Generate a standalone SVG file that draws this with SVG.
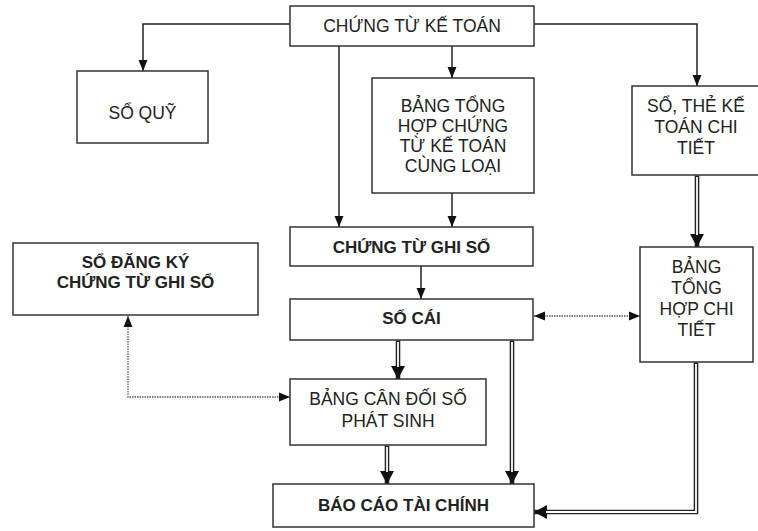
<svg xmlns="http://www.w3.org/2000/svg" width="758" height="531" viewBox="0 0 758 531">
<defs>
<style>
.box{fill:#fff;stroke:#333;stroke-width:1.5}
.t{font-family:"Liberation Sans",Arial,sans-serif;font-size:17.5px;fill:#222;text-anchor:middle}
.b{font-weight:bold;font-size:17px}
.thin{fill:none;stroke:#222;stroke-width:1.5}
.dot{fill:none;stroke:#555;stroke-width:1.3;stroke-dasharray:1.5 1}
.dbl{fill:none;stroke:#222;stroke-width:4.6;stroke-linejoin:miter}
.dbli{fill:none;stroke:#fff;stroke-width:1.8;stroke-linejoin:miter}
</style>
<marker id="a" markerUnits="userSpaceOnUse" markerWidth="12" markerHeight="12" viewBox="0 0 12 12" refX="11" refY="6" orient="auto">
<path d="M0,1.5 L11,6 L0,10.5 Z" fill="#111"/>
</marker>
<marker id="as" markerUnits="userSpaceOnUse" markerWidth="12" markerHeight="12" viewBox="0 0 12 12" refX="1" refY="6" orient="auto">
<path d="M12,1.5 L1,6 L12,10.5 Z" fill="#111"/>
</marker>
<marker id="ad" markerUnits="userSpaceOnUse" markerWidth="14" markerHeight="16" viewBox="0 0 14 16" refX="13" refY="8" orient="auto">
<path d="M0,1 L13,8 L0,15 Z" fill="#111"/>
</marker>
</defs>
<rect width="758" height="531" fill="#fff"/>
<g id="connectors">
<path class="thin" d="M290 24 H143 V71" marker-end="url(#a)"/>
<path class="thin" d="M534 24 H697 V86" marker-end="url(#a)"/>
<path class="thin" d="M339 46 V227" marker-end="url(#a)"/>
<path class="thin" d="M452 46 V78" marker-end="url(#a)"/>
<path class="thin" d="M452 193 V227" marker-end="url(#a)"/>
<path class="thin" d="M421 266 V299" marker-end="url(#a)"/>
<path class="dot" d="M534 316 H640" marker-start="url(#as)" marker-end="url(#a)"/>
<path class="dot" d="M128 316 V397 H290" marker-start="url(#as)" marker-end="url(#a)"/>
<path class="dbl" d="M697 175.5 V247" marker-end="url(#ad)"/>
<path class="dbli" d="M697 177 V235"/>
<path class="dbl" d="M398 340.5 V379" marker-end="url(#ad)"/>
<path class="dbli" d="M398 342 V367"/>
<path class="dbl" d="M387 445.5 V484" marker-end="url(#ad)"/>
<path class="dbli" d="M387 447 V472"/>
<path class="dbl" d="M512 340.5 V484" marker-end="url(#ad)"/>
<path class="dbli" d="M512 342 V472"/>
<path class="dbl" d="M696 362.5 V512 H534" marker-end="url(#ad)"/>
<path class="dbli" d="M696 364 V512 H546"/>
</g>
<g id="chung-tu-ke-toan"><rect class="box" x="290" y="6" width="244" height="40"/><text class="t" x="412" y="32">CHỨNG TỪ KẾ TOÁN</text></g>
<g id="so-quy"><rect class="box" x="77" y="71" width="131" height="72"/><text class="t" x="142.5" y="119">SỔ QUỸ</text></g>
<g id="bang-tong-hop-chung-tu"><rect class="box" x="372" y="78" width="162" height="115"/>
<text class="t" x="453" y="112">BẢNG TỔNG</text><text class="t" x="453" y="132">HỢP CHỨNG</text><text class="t" x="453" y="152">TỪ KẾ TOÁN</text><text class="t" x="453" y="172">CÙNG LOẠI</text></g>
<g id="so-the-ke-toan-chi-tiet"><rect class="box" x="632" y="86" width="132" height="89"/>
<text class="t" x="696" y="112">SỔ, THẺ KẾ</text><text class="t" x="696" y="133">TOÁN CHI</text><text class="t" x="696" y="154">TIẾT</text></g>
<g id="chung-tu-ghi-so"><rect class="box" x="290" y="227" width="243" height="39"/><text class="t b" x="411.5" y="253">CHỨNG TỪ GHI SỔ</text></g>
<g id="so-dang-ky"><rect class="box" x="13" y="243" width="245" height="72"/><text class="t b" x="135.5" y="268">SỔ ĐĂNG KÝ</text><text class="t b" x="135.5" y="288">CHỨNG TỪ GHI SỔ</text></g>
<g id="so-cai"><rect class="box" x="290" y="299" width="243" height="41"/><text class="t b" x="411.5" y="324">SỔ CÁI</text></g>
<g id="bang-tong-hop-chi-tiet"><rect class="box" x="640" y="247" width="113" height="115"/>
<text class="t" x="696.5" y="273">BẢNG</text><text class="t" x="696.5" y="294">TỔNG</text><text class="t" x="696.5" y="315">HỢP CHI</text><text class="t" x="696.5" y="336">TIẾT</text></g>
<g id="bang-can-doi"><rect class="box" x="290" y="379" width="196" height="66"/><text class="t" x="388" y="405">BẢNG CÂN ĐỐI SỐ</text><text class="t" x="388" y="427">PHÁT SINH</text></g>
<g id="bao-cao-tai-chinh"><rect class="box" x="273" y="484" width="261" height="43"/><text class="t b" x="403.5" y="511">BÁO CÁO TÀI CHÍNH</text></g>
</svg>
